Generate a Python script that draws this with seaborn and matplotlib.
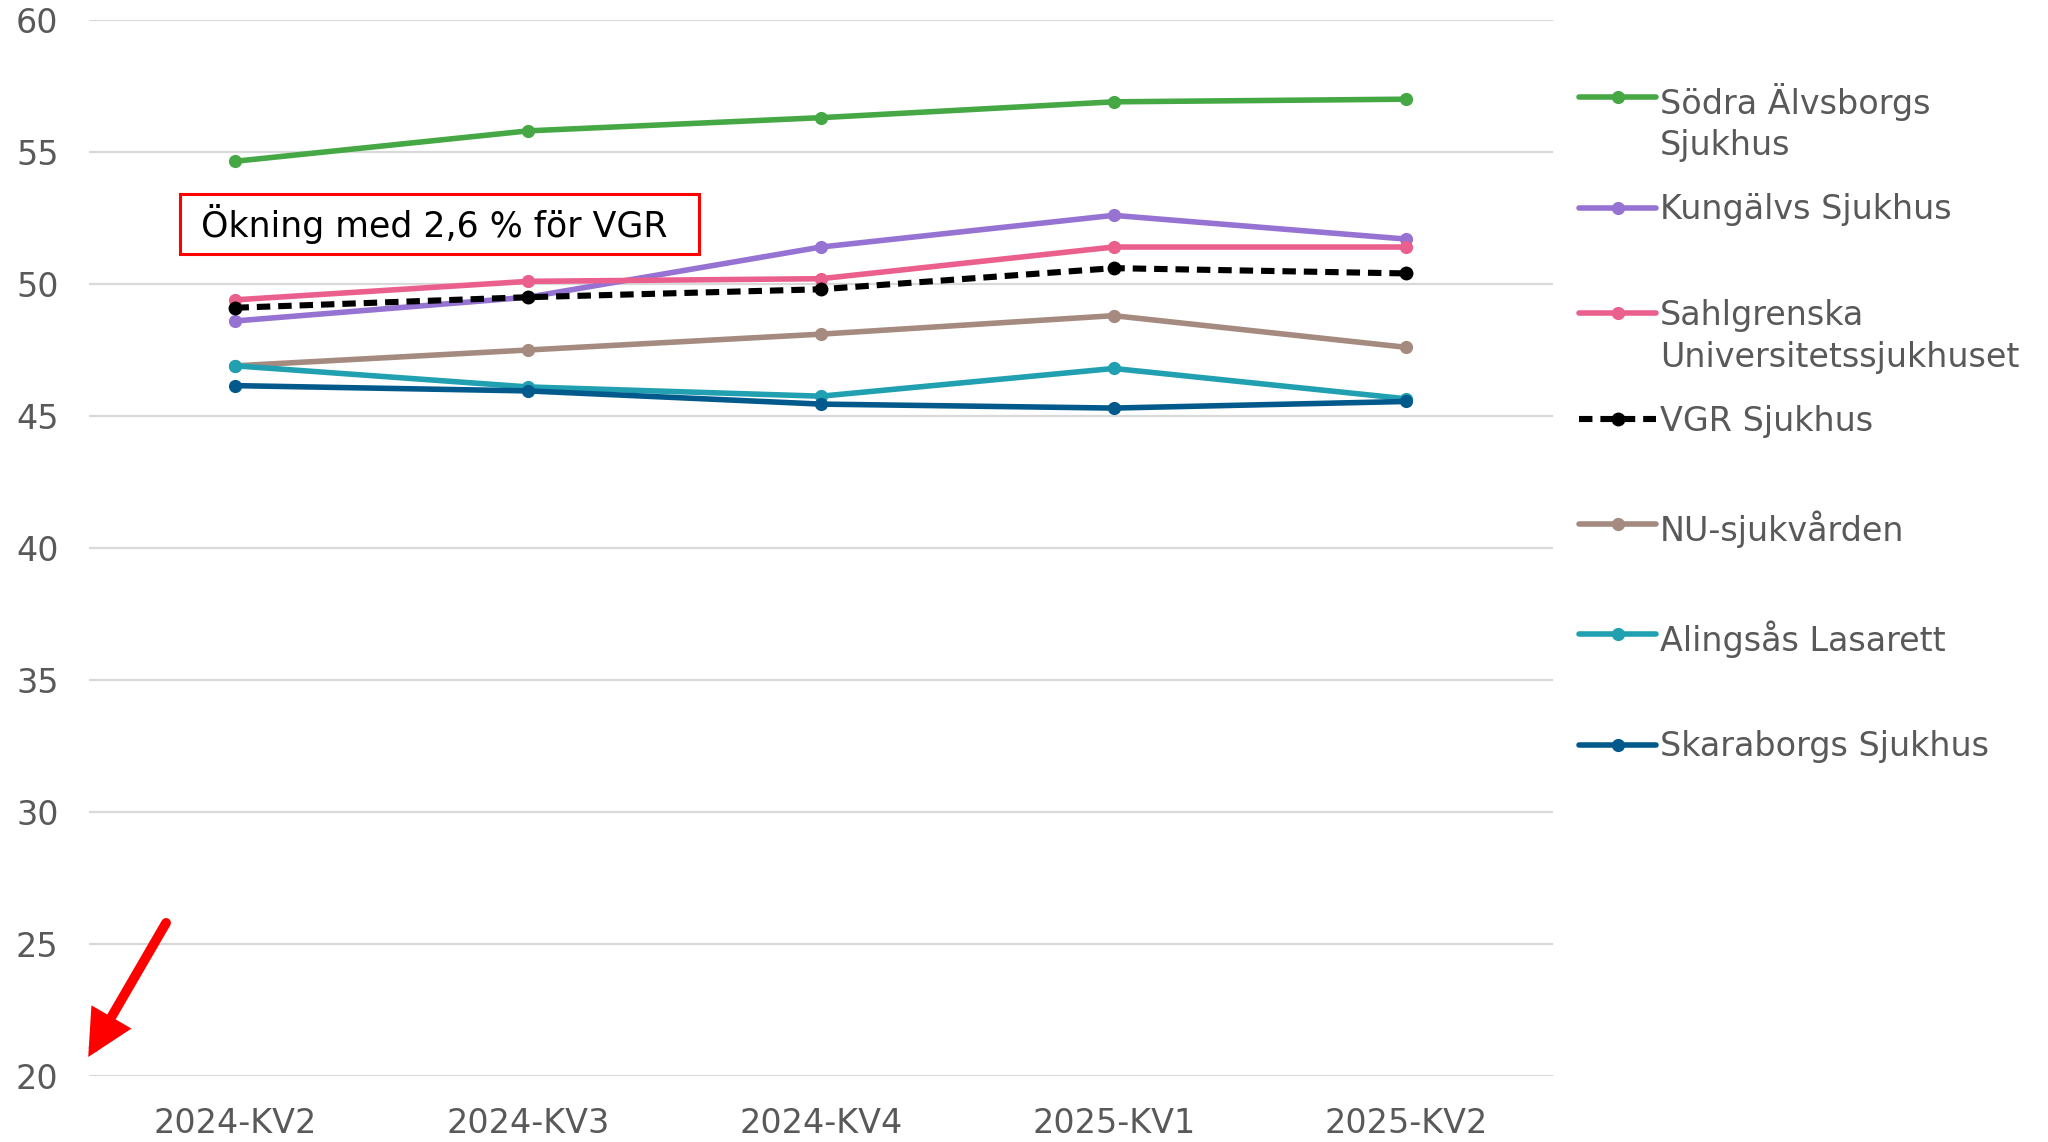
"""
Medelvärde per kvartal - VGR sjukhus (linjediagram med seaborn)
"""

import pandas as pd
import seaborn as sns
import matplotlib.pyplot as plt

sns.set_theme(style="white")
plt.rcParams['font.family'] = ['DejaVu Sans']

# Data
kvartal = ['2024-KV2', '2024-KV3', '2024-KV4', '2025-KV1', '2025-KV2']

sodra_alvsborg = [54.65, 55.8, 56.3, 56.9, 57.0]
kungalv = [48.6, 49.5, 51.4, 52.6, 51.7]
sahlgrenska = [49.4, 50.1, 50.2, 51.4, 51.4]
vgr = [49.1, 49.5, 49.8, 50.6, 50.4]
nu_sjukvarden = [46.9, 47.5, 48.1, 48.8, 47.6]
alingsas = [46.9, 46.1, 45.75, 46.8, 45.65]
skaraborg = [46.15, 45.95, 45.45, 45.3, 45.55]

namn = ['Södra Älvsborgs\nSjukhus', 'Kungälvs Sjukhus', 'Sahlgrenska\nUniversitetssjukhuset',
        'VGR Sjukhus', 'NU-sjukvården', 'Alingsås Lasarett', 'Skaraborgs Sjukhus']
serier = [sodra_alvsborg, kungalv, sahlgrenska, vgr, nu_sjukvarden, alingsas, skaraborg]
farger = ['#45A845', '#9673D2', '#EB5F8C', '#000000', '#A58A80', '#20A0B0', '#025A8C']

df = pd.DataFrame({
    'Kvartal': kvartal * len(serier),
    'Varde': [v for s in serier for v in s],
    'Sjukhus': [n for n in namn for _ in kvartal],
})

fig = plt.figure(figsize=(20.48, 11.42), dpi=100)
ax = fig.add_axes([0.0435, 0.0578, 0.7147, 0.9247])

for n, farg in zip(namn, farger):
    d = df[df['Sjukhus'] == n]
    if n == 'VGR Sjukhus':
        sns.lineplot(data=d, x='Kvartal', y='Varde', color=farg, marker='o',
                     markersize=10, linewidth=4.4, linestyle=(0, (2.2, 1.3)),
                     markeredgewidth=0, label=n, ax=ax)
    else:
        sns.lineplot(data=d, x='Kvartal', y='Varde', color=farg, marker='o',
                     markersize=9.5, linewidth=4.0, markeredgewidth=0,
                     label=n, ax=ax)

ax.set_xlim(-0.5, 4.5)
ax.set_ylim(20, 60)
ax.set_yticks(range(20, 61, 5))
ax.set_xlabel('')
ax.set_ylabel('')
ax.grid(axis='y', color='#d9d9d9', linewidth=1.6)
ax.grid(axis='x', visible=False)
ax.set_axisbelow(True)
for s in ax.spines.values():
    s.set_visible(False)
ax.tick_params(axis='both', length=0, labelsize=24, colors='#595959')
ax.tick_params(axis='y', pad=22)
ax.tick_params(axis='x', pad=22)

# Annotering
ax.text(-0.155, 52.28, ' Ökning med 2,6 % för VGR  ', fontsize=25, color='black',
        va='center', ha='left',
        bbox=dict(boxstyle='square,pad=0.28', facecolor='white', edgecolor='#FF0000', linewidth=2.2))

ax.annotate('', xy=(-0.503, 20.72), xytext=(-0.237, 25.8),
            arrowprops=dict(arrowstyle='-|>,head_length=1.1,head_width=0.55',
                            mutation_scale=20, joinstyle='miter',
                            color='#FF0000', linewidth=7, shrinkA=0, shrinkB=0),
            annotation_clip=False)

# Legend
handles, labels = ax.get_legend_handles_labels()
labels = [l if '\n' in l else l + '\n' for l in labels]
if ax.get_legend():
    ax.get_legend().remove()
leg = fig.legend(handles, labels, loc='upper left', bbox_to_anchor=(0.7712, 0.9275),
                 frameon=False, fontsize=24, handlelength=2.3, handletextpad=0.12,
                 labelspacing=0.93, borderpad=0, borderaxespad=0, handleheight=1.2)
for t in leg.get_texts():
    t.set_color('#595959')
    t.set_linespacing(1.33)
for col in leg._legend_handle_box.get_children():
    for item in col.get_children():
        item.align = 'top'

plt.savefig('out.png', dpi=100)
